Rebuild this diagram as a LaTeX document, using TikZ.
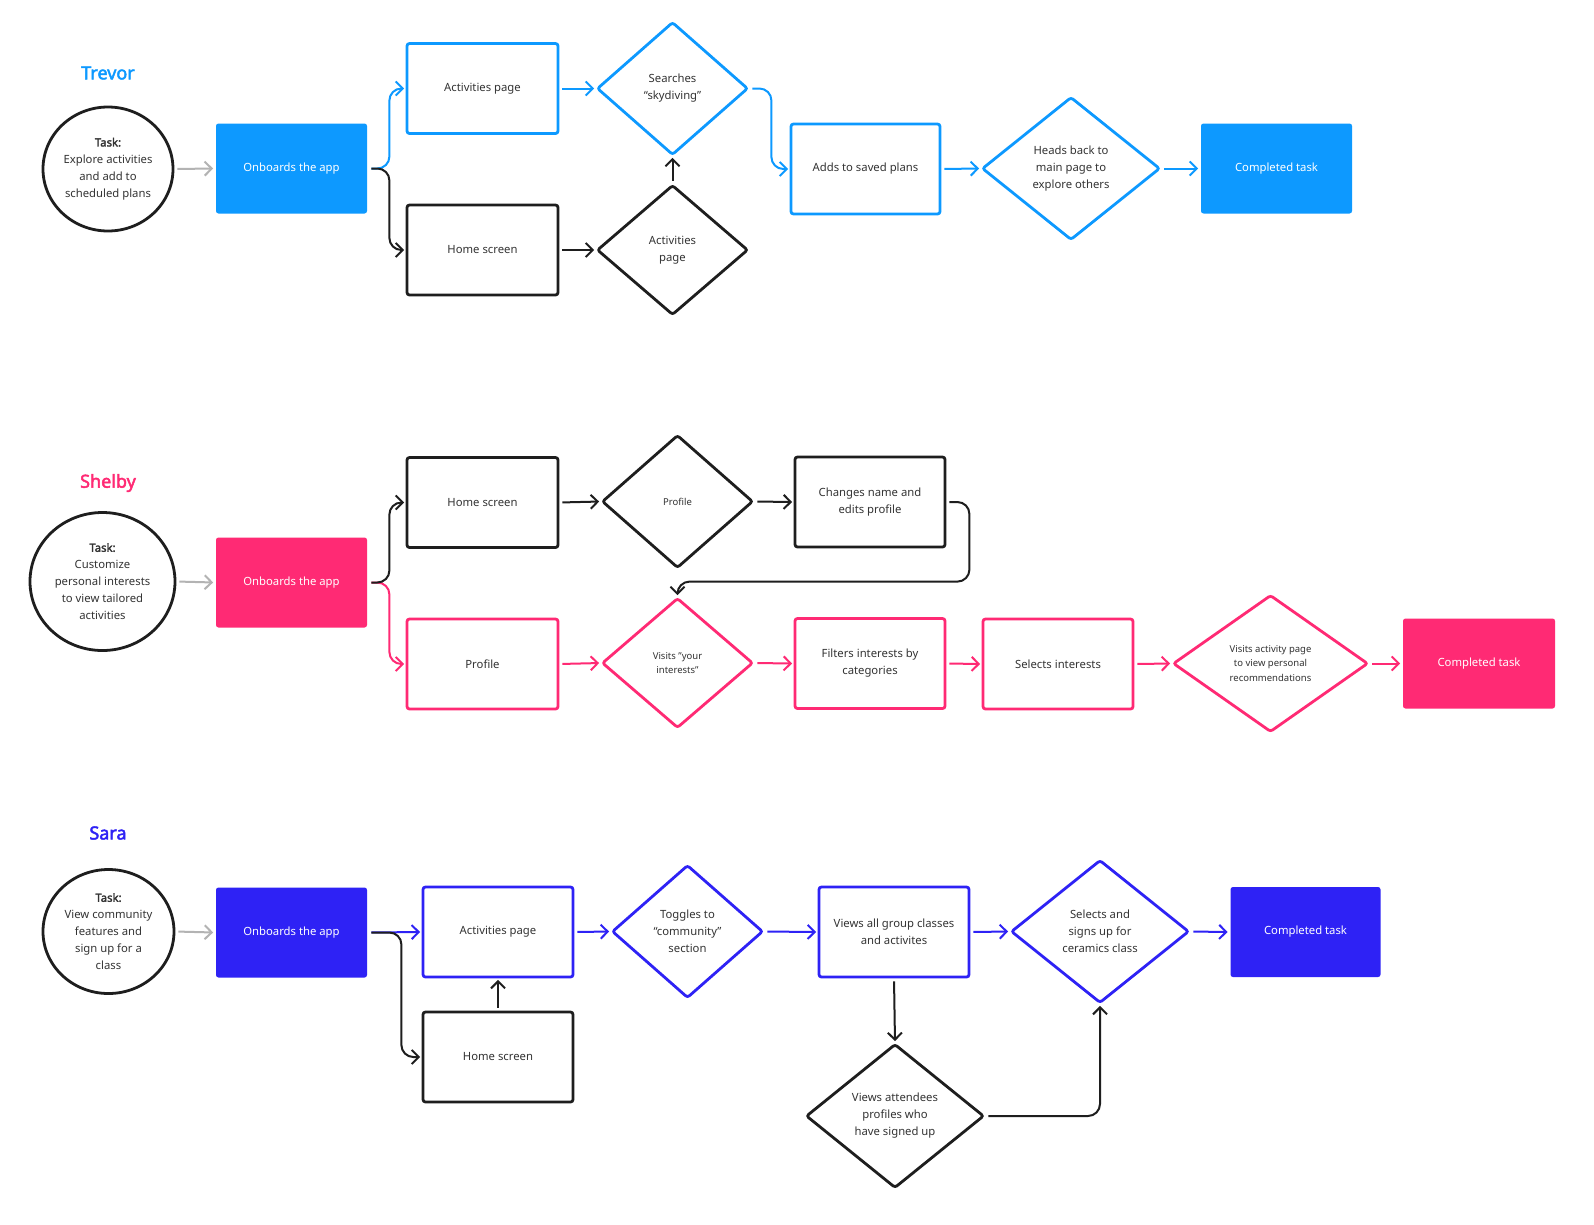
\documentclass[tikz,border=0pt]{standalone}
\usepackage{fontspec}
\setmainfont{Noto Sans}[AutoFakeBold=2.5]
\usetikzlibrary{arrows.meta,shapes.geometric}
\definecolor{tblue}{HTML}{0D99FF}
\definecolor{spink}{HTML}{FF2A74}
\definecolor{sviolet}{HTML}{2E22F5}
\definecolor{ink}{HTML}{1E1E1E}
\definecolor{txt}{HTML}{333333}
\definecolor{greyarrow}{HTML}{B3B3B3}
\tikzset{
  basefont/.style={font=\fontsize{11.3}{17}\selectfont},
  smallfont/.style={font=\fontsize{9.5}{14.5}\selectfont},
  stepbox/.style={rectangle, rounded corners=2.5pt, minimum width=151pt, minimum height=90pt,
    line width=2.8pt, align=center, text=txt, inner sep=0pt, basefont},
  fillbox/.style={stepbox, draw=none, fill=#1, text=white},
  dia/.style={diamond, rounded corners=2.5pt, line width=2.8pt, align=center, text=txt,
    inner sep=0pt, basefont},
  taskcirc/.style={ellipse, draw=ink, line width=2.8pt, align=center, text=txt, inner sep=0pt,
    font=\fontsize{11.3}{17}\selectfont},
  title/.style={font=\fontsize{18}{20}\selectfont\bfseries, text=#1},
  conn/.style={line width=2pt, draw=#1, -{Straight Barb[length=7pt,width=14pt]},
    shorten >=1.5pt, shorten <=3pt, rounded corners=12pt},
}
\begin{document}
\begin{tikzpicture}[x=1pt,y=-1pt]
\useasboundingbox[fill=white] (0,0) rectangle (1594,1224);

% ---------------- Trevor ----------------
\node[title=tblue] (title1) at (108,73) {Trevor};
\node[taskcirc, minimum width=130pt, minimum height=124pt] (task1) at (108,169)
  {\textbf{Task:}\\Explore activities\\and add to\\scheduled plans};
\node[fillbox=tblue] (onb1) at (291.5,168.5) {Onboards the app};
\node[stepbox, draw=tblue] (act1) at (482.5,88.5) {Activities page};
\node[stepbox, draw=ink] (home1) at (482.5,250) {Home screen};
\node[dia, draw=tblue, minimum width=151pt, minimum height=133pt] (s1) at (672.5,88.5)
  {Searches\\“skydiving”};
\node[dia, draw=ink, minimum width=151pt, minimum height=130pt] (ap1) at (672.5,250)
  {Activities\\page};
\node[stepbox, draw=tblue, minimum width=149pt] (add1) at (865.5,169) {Adds to saved plans};
\node[dia, draw=tblue, minimum width=178pt, minimum height=143pt] (hb1) at (1071,168.5)
  {Heads back to\\main page to\\explore others};
\node[fillbox=tblue] (done1) at (1276.5,168.5) {Completed task};

\draw[conn=greyarrow] (task1.east) -- (onb1.west);
\draw[conn=tblue] (onb1.east) -- ++(21,0) |- (act1.west);
\draw[conn=ink] (onb1.east) -- ++(21,0) |- (home1.west);
\draw[conn=tblue] (act1.east) -- (s1.west);
\draw[conn=ink] (home1.east) -- (ap1.west);
\draw[conn=ink] (ap1.north) -- (s1.south);
\draw[conn=tblue] (s1.east) -- ++(22,0) |- (add1.west);
\draw[conn=tblue] (add1.east) -- (hb1.west);
\draw[conn=tblue] (hb1.east) -- (done1.west);

% ---------------- Shelby ----------------
\node[title=spink] (title2) at (108,483) {Shelby};
\node[taskcirc, minimum width=145pt, minimum height=138pt] (task2) at (102.5,581.5)
  {\textbf{Task:}\\Customize\\personal interests\\to view tailored\\activities};
\node[fillbox=spink] (onb2) at (291.5,582.5) {Onboards the app};
\node[stepbox, draw=ink] (home2) at (482.5,502.5) {Home screen};
\node[dia, draw=ink, smallfont, minimum width=151pt, minimum height=133pt] (prof2) at (677.5,501.5)
  {Profile};
\node[stepbox, draw=ink, minimum width=150pt] (chg2) at (870,502) {Changes name and\\edits profile};
\node[stepbox, draw=spink] (pro2) at (482.5,664) {Profile};
\node[dia, draw=spink, smallfont, minimum width=151pt, minimum height=130pt] (vis2) at (677.5,663)
  {Visits "your\\interests"};
\node[stepbox, draw=spink, minimum width=150pt] (fil2) at (870,663.5) {Filters interests by\\categories};
\node[stepbox, draw=spink, minimum width=150pt] (sel2) at (1058,664) {Selects interests};
\node[dia, draw=spink, smallfont, minimum width=195pt, minimum height=137pt] (va2) at (1270.5,663.5)
  {Visits activity page\\to view personal\\recommendations};
\node[fillbox=spink, minimum width=152pt] (done2) at (1479,663.5) {Completed task};

\draw[conn=greyarrow] (task2.east) -- (onb2.west);
\draw[conn=spink] (onb2.east) -- ++(21,0) |- (pro2.west);
\draw[conn=ink] (onb2.east) -- ++(21,0) |- (home2.west);
\draw[conn=ink] (home2.east) -- (prof2.west);
\draw[conn=ink] (prof2.east) -- (chg2.west);
\draw[conn=ink] (chg2.east) -- ++(23,0) |- ([yshift=15pt]vis2.north) -- (vis2.north);
\draw[conn=spink] (pro2.east) -- (vis2.west);
\draw[conn=spink] (vis2.east) -- (fil2.west);
\draw[conn=spink] (fil2.east) -- (sel2.west);
\draw[conn=spink] (sel2.east) -- (va2.west);
\draw[conn=spink] (va2.east) -- (done2.west);

% ---------------- Sara ----------------
\node[title=sviolet] (title3) at (108,833) {Sara};
\node[taskcirc, minimum width=131pt, minimum height=124pt] (task3) at (108.5,931.5)
  {\textbf{Task:}\\View community\\features and\\sign up for a\\class};
\node[fillbox=sviolet] (onb3) at (291.5,932.5) {Onboards the app};
\node[stepbox, draw=sviolet, minimum width=150pt] (act3) at (498,932) {Activities page};
\node[stepbox, draw=ink, minimum width=150pt] (home3) at (498,1057) {Home screen};
\node[dia, draw=sviolet, minimum width=151pt, minimum height=133pt] (tog3) at (687.5,931.5)
  {Toggles to\\“community”\\section};
\node[stepbox, draw=sviolet, minimum width=150pt] (vw3) at (894,932) {Views all group classes\\and activites};
\node[dia, draw=sviolet, minimum width=178pt, minimum height=143pt] (sel3) at (1100,931.5)
  {Selects and\\signs up for\\ceramics class};
\node[dia, draw=ink, minimum width=178pt, minimum height=144pt] (att3) at (895,1116)
  {Views attendees\\profiles who\\have signed up};
\node[fillbox=sviolet, minimum width=150pt] (done3) at (1305.5,932) {Completed task};

\draw[conn=greyarrow] (task3.east) -- (onb3.west);
\draw[conn=sviolet] (onb3.east) -- (act3.west);
\draw[conn=ink] (onb3.east) -- ++(33,0) |- (home3.west);
\draw[conn=ink] (home3.north) -- (act3.south);
\draw[conn=sviolet] (act3.east) -- (tog3.west);
\draw[conn=sviolet] (tog3.east) -- (vw3.west);
\draw[conn=sviolet] (vw3.east) -- (sel3.west);
\draw[conn=ink] (vw3.south) -- (att3.north);
\draw[conn=ink] (att3.east) -| (sel3.south);
\draw[conn=sviolet] (sel3.east) -- (done3.west);
\end{tikzpicture}
\end{document}
